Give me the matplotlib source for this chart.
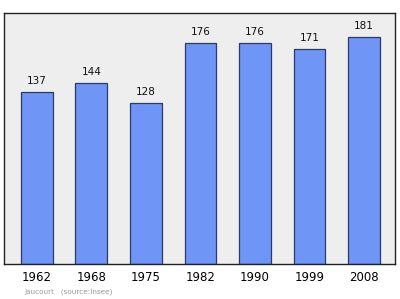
import matplotlib.pyplot as plt
import numpy as np

years = ['1962', '1968', '1975', '1982', '1990', '1999', '2008']
population = [137, 144, 128, 176, 176, 171, 181]

fig = plt.figure(figsize=(4, 2.99), dpi=100)
ax = fig.add_axes([4/400, 1 - 264/299, 391/400, 251/299])
ax.set_facecolor('#eeeeee')

x = np.arange(len(years))
ax.bar(x, population, width=0.58, color='#6f96f7', edgecolor='#2b3a66', linewidth=0.9, zorder=2)

for xi, v in zip(x, population):
    ax.text(xi, v + 5, str(v), ha='center', va='bottom', fontsize=7.5, color='#111111')

ax.set_xlim(-0.6, 6.57)
ax.set_ylim(0, 200)
ax.set_xticks(x)
ax.set_xticklabels(years, fontsize=8.5)
ax.tick_params(axis='x', length=0, pad=5)
ax.set_yticks([])
for s in ax.spines.values():
    s.set_color('#222222')
    s.set_linewidth(1.0)

fig.text(24/400, 1 - 292/299, 'Jaucourt   (source:Insee)', fontsize=5.2, color='#999999', va='center')

fig.savefig('out.png', dpi=100)
